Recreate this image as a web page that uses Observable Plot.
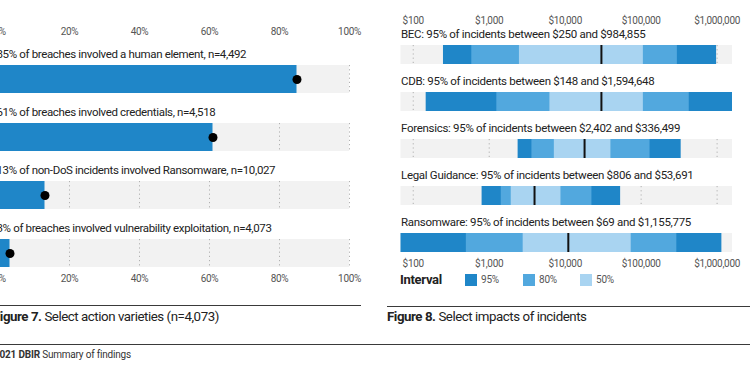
<!DOCTYPE html>
<html>
<head>
<meta charset="utf-8">
<script src="https://cdn.jsdelivr.net/npm/d3@7"></script>
<script src="https://cdn.jsdelivr.net/npm/@observablehq/plot@0.6"></script>
<style>
  html, body { margin: 0; padding: 0; background: #fff; }
  body { width: 750px; height: 375px; position: relative; overflow: hidden; font-family: Roboto, "Liberation Sans", sans-serif; color: #222; }
  .abs { position: absolute; }
  .rule { position: absolute; height: 0; border-top: 1.5px solid #3a3a3a; }
  .cap { position: absolute; font-size: 13.3px; letter-spacing: -0.45px; white-space: nowrap; color: #222; line-height: 1; }
  .cap b { font-weight: 700; }
  .foot { position: absolute; font-size: 10px; letter-spacing: -0.2px; white-space: nowrap; color: #333; line-height: 1; }
  .legend { position: absolute; left: 400px; top: 273px; height: 14px; font-size: 10px; color: #555; }
  .legend .title { position: absolute; left: 0; top: 0; font-weight: 700; font-size: 13px; color: #222; letter-spacing: -0.3px; line-height: 14px; }
  .legend .sw { position: absolute; top: 1px; width: 12px; height: 12px; }
  .legend .lab { position: absolute; top: 1px; line-height: 12px; letter-spacing: -0.2px; }
</style>
</head>
<body>
<div id="left" class="abs" style="left:-5px; top:0;"></div>
<div id="right" class="abs" style="left:375px; top:0;"></div>
<div id="legend" class="legend"></div>
<div class="rule" style="left:0; width:361px; top:305px;"></div>
<div class="cap" style="left:-7px; top:310px;"><b>Figure 7.</b> Select action varieties (n=4,073)</div>
<div class="rule" style="left:387px; width:363px; top:305.5px;"></div>
<div class="cap" style="left:387px; top:310px;"><b>Figure 8.</b> Select impacts of incidents</div>
<div class="rule" style="left:0; width:750px; top:344px;"></div>
<div class="foot" style="left:-6px; top:350px;"><b>2021 DBIR</b> Summary of findings</div>
<script>
// ---------- Figure 7 data ----------
const actionPct = [85, 61, 13, 3];
const actionDesc = [
  "of breaches involved a human element",
  "of breaches involved credentials",
  "of non-DoS incidents involved Ransomware",
  "of breaches involved vulnerability exploitation"
];
const actionN = [4492, 4518, 10027, 4073];
const pctTicks = [0, 20, 40, 60, 80, 100];

// ---------- Figure 8 data ----------
const impactCats = ["BEC", "CDB", "Forensics", "Legal Guidance", "Ransomware"];
const lo95 = [250, 148, 2402, 806, 69];
const hi95 = [984855, 1594648, 336499, 53691, 1155775];
const lo80 = [590, 1260, 3650, 1440, 500];
const hi80 = [300000, 430000, 131000, 22500, 295000];
const lo50 = [2500, 6300, 7200, 1950, 2800];
const hi50 = [107000, 107000, 40000, 8800, 74000];
const medianCost = [30000, 30000, 18000, 3950, 11000];
const costTicks = [100, 1000, 10000, 100000, 1000000];
const intervalNames = ["95%", "80%", "50%"];
const intervalColors = ["#1f86c8", "#52a8de", "#a9d4f1"];

const FONT = "Roboto, 'Liberation Sans', sans-serif";
const BLUE = "#1f86c8";
const TRACK = "#f2f2f2";
const GRID = "#b0b0b0";
const nfmt = d3.format(",");
const cfmt = d3.format("$,");

// ---------- Figure 7 ----------
const actionLabels = actionPct.map((p, i) => `${p}% ${actionDesc[i]}, n=${nfmt(actionN[i])}`);
const actionRows = actionLabels.map((lab, i) => ({cat: lab, pct: actionPct[i], label: lab}));
const actionGrid = actionLabels.flatMap(lab => pctTicks.slice(1).map(t => ({cat: lab, t})));

const left = Plot.plot({
  width: 370, height: 300,
  marginLeft: 4, marginRight: 16, marginTop: 40, marginBottom: 32,
  style: {fontFamily: FONT, fontSize: "10px", color: "#555", background: "transparent", overflow: "visible"},
  x: {domain: [0, 100], axis: "both", ticks: pctTicks, tickFormat: d => d + "%", tickSize: 0, tickPadding: 6, label: null},
  y: {domain: actionLabels, range: [64, 268], paddingInner: 0.525, paddingOuter: 0, axis: null},
  marks: [
    Plot.barX(actionLabels, {y: d => d, x1: 0, x2: 100, fill: TRACK}),
    Plot.tickX(actionGrid, {x: "t", y: "cat", stroke: GRID, strokeDasharray: "1.2,3"}),
    Plot.barX(actionRows, {y: "cat", x1: 0, x2: "pct", fill: BLUE}),
    Plot.dot(actionRows, {y: "cat", x: "pct", r: 4.5, fill: "#000"}),
    Plot.text(actionRows, {y: "cat", x: 0, text: "label", textAnchor: "start", dx: -3, dy: -25.5,
      fontSize: 11.5, fill: "#222"})
  ]
});
left.querySelectorAll("text").forEach(t => t.style.letterSpacing = "-0.35px");
document.getElementById("left").appendChild(left);

// ---------- Figure 8 ----------
const impactRows = impactCats.map((c, i) => ({
  cat: c, lo95: lo95[i], hi95: hi95[i], lo80: lo80[i], hi80: hi80[i],
  lo50: lo50[i], hi50: hi50[i], med: medianCost[i],
  label: `${c}: 95% of incidents between ${cfmt(lo95[i])} and ${cfmt(hi95[i])}`
}));
const costDomain = d3.extent([...lo95, ...hi95]);
const impactGrid = impactCats.flatMap(c => costTicks.map(t => ({cat: c, t})));

const right = Plot.plot({
  width: 375, height: 270,
  marginLeft: 25.5, marginRight: 18, marginTop: 27, marginBottom: 14,
  style: {fontFamily: FONT, fontSize: "10px", color: "#555", background: "transparent", overflow: "visible"},
  x: {type: "log", domain: costDomain, axis: "both", ticks: costTicks, tickFormat: cfmt, tickSize: 0, tickPadding: 3.5, label: null},
  y: {domain: impactCats, range: [45, 252], paddingInner: 0.596, paddingOuter: 0, axis: null},
  marks: [
    Plot.barX(impactCats, {y: d => d, x1: costDomain[0], x2: costDomain[1], fill: TRACK}),
    Plot.tickX(impactGrid, {x: "t", y: "cat", stroke: GRID, strokeDasharray: "1.2,3"}),
    Plot.barX(impactRows, {y: "cat", x1: "lo95", x2: "hi95", fill: intervalColors[0]}),
    Plot.barX(impactRows, {y: "cat", x1: "lo80", x2: "hi80", fill: intervalColors[1]}),
    Plot.barX(impactRows, {y: "cat", x1: "lo50", x2: "hi50", fill: intervalColors[2]}),
    Plot.tickX(impactRows, {y: "cat", x: "med", stroke: "#111", strokeWidth: 2}),
    Plot.text(impactRows, {y: "cat", x: costDomain[0], text: "label", textAnchor: "start", dy: -20.5,
      fontSize: 11.5, fill: "#222"})
  ]
});
right.querySelectorAll("text").forEach(t => t.style.letterSpacing = "-0.3px");
document.getElementById("right").appendChild(right);

// ---------- Legend ----------
const legend = document.getElementById("legend");
const lt = document.createElement("div");
lt.className = "title"; lt.textContent = "Interval";
legend.appendChild(lt);
const swX = [65, 123, 180];
intervalNames.forEach((name, i) => {
  const sw = document.createElement("div");
  sw.className = "sw"; sw.style.left = swX[i] + "px"; sw.style.background = intervalColors[i];
  legend.appendChild(sw);
  const lb = document.createElement("div");
  lb.className = "lab"; lb.style.left = (swX[i] + 16) + "px"; lb.textContent = name;
  legend.appendChild(lb);
});
</script>
</body>
</html>
